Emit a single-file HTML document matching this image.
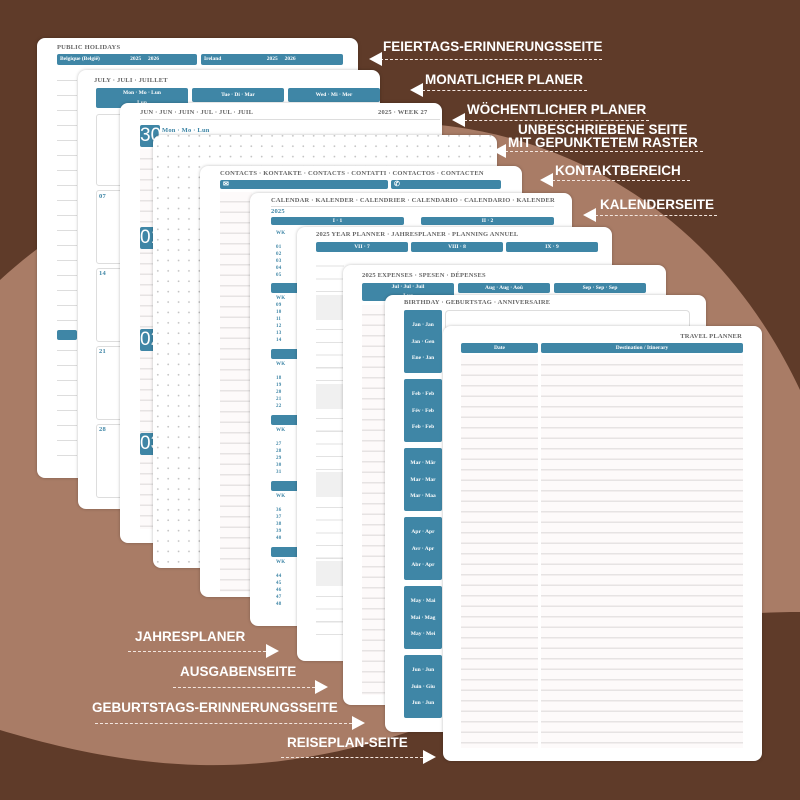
<!DOCTYPE html>
<html><head><meta charset="utf-8"><style>
*{margin:0;padding:0;box-sizing:border-box}
body{width:800px;height:800px;overflow:hidden;background:#5f3b29;position:relative;font-family:"Liberation Serif",serif}
.pg{position:absolute;background:#fff;border-radius:8px;overflow:hidden;box-shadow:0 0 3px rgba(0,0,0,.25)}
.t{position:absolute;font-size:6.5px;font-weight:bold;color:#666;white-space:nowrap;letter-spacing:.2px}
.b{position:absolute;background:#3f86a6;border-radius:2px;color:#fff;font-size:5.5px;font-weight:bold;text-align:center;white-space:nowrap}
.ln{position:absolute;background:repeating-linear-gradient(to bottom,#fdfafa 0,#fdfafa 9px,#e6e3e3 9px,#e6e3e3 10.5px)}
.lbl{position:absolute;color:#fff;font-family:"Liberation Sans",sans-serif;font-weight:bold;font-size:13.5px;white-space:nowrap;line-height:1}
.dl{position:absolute;height:0;border-top:1.3px dashed #f3e6df}
.al{position:absolute;width:0;height:0;border-top:7px solid transparent;border-bottom:7px solid transparent;border-right:13px solid #fff}
.ar{position:absolute;width:0;height:0;border-top:7px solid transparent;border-bottom:7px solid transparent;border-left:13px solid #fff}
.bn{position:absolute;color:#fff;font-size:19px;background:#3f86a6;border-radius:2px;font-family:"Liberation Sans",sans-serif;text-align:center;line-height:22px}
</style></head><body>
<svg width="800" height="800" style="position:absolute;left:0;top:0">
<path d="M0,280 C120,170 300,110 440,125 C580,140 720,220 800,390 L800,612 C760,612 720,615 700,620 C560,660 400,770 200,765 C120,763 50,745 0,730 Z" fill="#a97c66"/>
</svg>

<div class="pg" style="left:37px;top:38px;width:321px;height:440px">
<div class="t" style="left:20px;top:6px">PUBLIC HOLIDAYS</div>
<div class="b" style="left:20px;top:16px;width:140px;height:11px;text-align:left;padding-left:3px;line-height:11px">Belgique (België) &nbsp;&nbsp;&nbsp;&nbsp;&nbsp;&nbsp;&nbsp;&nbsp;&nbsp;&nbsp;&nbsp;&nbsp;&nbsp;&nbsp;&nbsp;&nbsp;&nbsp;&nbsp;&nbsp;&nbsp; 2025 &nbsp;&nbsp;&nbsp; 2026</div>
<div class="b" style="left:164px;top:16px;width:142px;height:11px;text-align:left;padding-left:3px;line-height:11px">Ireland &nbsp;&nbsp;&nbsp;&nbsp;&nbsp;&nbsp;&nbsp;&nbsp;&nbsp;&nbsp;&nbsp;&nbsp;&nbsp;&nbsp;&nbsp;&nbsp;&nbsp;&nbsp;&nbsp;&nbsp;&nbsp;&nbsp;&nbsp;&nbsp;&nbsp;&nbsp;&nbsp;&nbsp;&nbsp;&nbsp;&nbsp; 2025 &nbsp;&nbsp;&nbsp; 2026</div>
<div class="ln" style="left:20px;top:28px;width:20px;height:400px;background:repeating-linear-gradient(to bottom,#fff 0,#fff 14px,#ddd 14px,#ddd 15px)"></div>
<div class="b" style="left:20px;top:292px;width:20px;height:10px"></div>
</div>

<div class="pg" style="left:78px;top:70px;width:302px;height:439px">
<div class="t" style="left:16px;top:7px">JULY · JULI · JUILLET</div>
<div class="b" style="left:18px;top:18px;width:92px;height:20px;line-height:10px">Mon · Mo · Lun<br>Lun</div>
<div class="b" style="left:114px;top:18px;width:92px;height:14px;line-height:14px">Tue · Di · Mar</div>
<div class="b" style="left:210px;top:18px;width:92px;height:14px;line-height:14px">Wed · Mi · Mer</div>
<div style="position:absolute;left:18px;top:44px;width:40px;height:72px;border:1px solid #ddd;border-radius:3px"></div>
<div style="position:absolute;left:18px;top:120px;width:40px;height:74px;border:1px solid #ddd;border-radius:3px"></div>
<div style="position:absolute;left:18px;top:198px;width:40px;height:74px;border:1px solid #ddd;border-radius:3px"></div>
<div style="position:absolute;left:18px;top:276px;width:40px;height:74px;border:1px solid #ddd;border-radius:3px"></div>
<div style="position:absolute;left:18px;top:354px;width:40px;height:74px;border:1px solid #ddd;border-radius:3px"></div>
<div class="t" style="left:21px;top:123px;color:#3f86a6">07</div>
<div class="t" style="left:21px;top:200px;color:#3f86a6">14</div>
<div class="t" style="left:21px;top:278px;color:#3f86a6">21</div>
<div class="t" style="left:21px;top:356px;color:#3f86a6">28</div>
</div>

<div class="pg" style="left:120px;top:103px;width:322px;height:440px">
<div class="t" style="left:20px;top:6px">JUN · JUN · JUIN · JUL · JUL · JUIL</div>
<div class="t" style="left:258px;top:6px">2025 · WEEK 27</div>
<div style="position:absolute;left:20px;top:16px;width:300px;border-top:1px solid #ddd"></div>
<div class="bn" style="left:20px;top:22px;width:20px">30</div>
<div class="t" style="left:42px;top:24px;color:#3f86a6">Mon · Mo · Lun</div>
<div class="ln" style="left:20px;top:46px;width:20px;height:380px"></div>
<div class="bn" style="left:20px;top:124px;width:20px">01</div>
<div class="bn" style="left:20px;top:226px;width:20px">02</div>
<div class="bn" style="left:20px;top:330px;width:20px">03</div>
</div>

<div class="pg" style="left:153px;top:135px;width:344px;height:433px;background:#fff radial-gradient(circle,#c4c4c4 0.7px,transparent 1.1px) 10px 6px/10.4px 10.4px"></div>

<div class="pg" style="left:200px;top:166px;width:322px;height:431px">
<div class="t" style="left:20px;top:4px">CONTACTS · KONTAKTE · CONTACTS · CONTATTI · CONTACTOS · CONTACTEN</div>
<div class="b" style="left:20px;top:14px;width:168px;height:9px;text-align:left;padding-left:3px;font-size:7px;line-height:9px">✉</div>
<div class="b" style="left:191px;top:14px;width:110px;height:9px;text-align:left;padding-left:3px;font-size:7px;line-height:9px">✆</div>
<div class="ln" style="left:20px;top:26px;width:32px;height:400px"></div>
</div>

<div class="pg" style="left:250px;top:193px;width:322px;height:433px">
<div class="t" style="left:21px;top:4px">CALENDAR · KALENDER · CALENDRIER · CALENDARIO · CALENDARIO · KALENDER</div>
<div style="position:absolute;left:21px;top:13px;width:283px;border-top:1px solid #ddd"></div>
<div class="t" style="left:21px;top:15px;color:#3f86a6">2025</div>
<div class="b" style="left:21px;top:24px;width:133px;height:8px;line-height:8px">I · 1</div>
<div class="b" style="left:171px;top:24px;width:133px;height:8px;line-height:8px">II · 2</div>
<div class="t" style="left:26px;top:37px;color:#3f86a6;font-size:5px;line-height:7px">WK<br><br>01<br>02<br>03<br>04<br>05</div>
<div class="b" style="left:21px;top:90px;width:30px;height:10px"></div>
<div class="t" style="left:26px;top:102px;color:#3f86a6;font-size:5px;line-height:7px">WK<br>09<br>10<br>11<br>12<br>13<br>14</div>
<div class="b" style="left:21px;top:156px;width:30px;height:10px"></div>
<div class="t" style="left:26px;top:168px;color:#3f86a6;font-size:5px;line-height:7px">WK<br><br>18<br>19<br>20<br>21<br>22</div>
<div class="b" style="left:21px;top:222px;width:30px;height:10px"></div>
<div class="t" style="left:26px;top:234px;color:#3f86a6;font-size:5px;line-height:7px">WK<br><br>27<br>28<br>29<br>30<br>31</div>
<div class="b" style="left:21px;top:288px;width:30px;height:10px"></div>
<div class="t" style="left:26px;top:300px;color:#3f86a6;font-size:5px;line-height:7px">WK<br><br>36<br>37<br>38<br>39<br>40</div>
<div class="b" style="left:21px;top:354px;width:30px;height:10px"></div>
<div class="t" style="left:26px;top:366px;color:#3f86a6;font-size:5px;line-height:7px">WK<br><br>44<br>45<br>46<br>47<br>48</div>
</div>

<div class="pg" style="left:297px;top:227px;width:315px;height:434px">
<div class="t" style="left:19px;top:4px">2025 YEAR PLANNER · JAHRESPLANER · PLANNING ANNUEL</div>
<div class="b" style="left:19px;top:15px;width:92px;height:10px;line-height:10px">VII · 7</div>
<div class="b" style="left:114px;top:15px;width:92px;height:10px;line-height:10px">VIII · 8</div>
<div class="b" style="left:209px;top:15px;width:92px;height:10px;line-height:10px">IX · 9</div>
<div class="ln" style="left:19px;top:27px;width:28px;height:390px;background:repeating-linear-gradient(to bottom,#fff 0,#fff 11.6px,#e2e2e2 11.6px,#e2e2e2 12.7px)"></div>
<div style="position:absolute;left:19px;top:68px;width:28px;height:25px;background:#f0f0f0"></div>
<div style="position:absolute;left:19px;top:157px;width:28px;height:25px;background:#f0f0f0"></div>
<div style="position:absolute;left:19px;top:245px;width:28px;height:25px;background:#f0f0f0"></div>
<div style="position:absolute;left:19px;top:334px;width:28px;height:25px;background:#f0f0f0"></div>
</div>

<div class="pg" style="left:343px;top:265px;width:323px;height:440px">
<div class="t" style="left:19px;top:7px">2025 EXPENSES · SPESEN · DÉPENSES</div>
<div class="b" style="left:19px;top:18px;width:92px;height:18px;line-height:9px">Jul · Jul · Juil<br>Lug</div>
<div class="b" style="left:115px;top:18px;width:92px;height:10px;line-height:10px">Aug · Aug · Aoû</div>
<div class="b" style="left:211px;top:18px;width:92px;height:10px;line-height:10px">Sep · Sep · Sep</div>
<div class="ln" style="left:19px;top:40px;width:30px;height:390px"></div>
</div>

<div class="pg" style="left:385px;top:295px;width:321px;height:437px">
<div class="t" style="left:19px;top:4px">BIRTHDAY · GEBURTSTAG · ANNIVERSAIRE</div>
<div class="b" style="left:19px;top:15px;width:38px;height:63px;line-height:16.5px;padding-top:7px">Jan · Jan<br>Jan · Gen<br>Ene · Jan</div>
<div class="b" style="left:19px;top:84px;width:38px;height:63px;line-height:16.5px;padding-top:7px">Feb · Feb<br>Fév · Feb<br>Feb · Feb</div>
<div class="b" style="left:19px;top:153px;width:38px;height:63px;line-height:16.5px;padding-top:7px">Mar · Mär<br>Mar · Mar<br>Mar · Maa</div>
<div class="b" style="left:19px;top:222px;width:38px;height:63px;line-height:16.5px;padding-top:7px">Apr · Apr<br>Avr · Apr<br>Abr · Apr</div>
<div class="b" style="left:19px;top:291px;width:38px;height:63px;line-height:16.5px;padding-top:7px">May · Mai<br>Mai · Mag<br>May · Mei</div>
<div class="b" style="left:19px;top:360px;width:38px;height:63px;line-height:16.5px;padding-top:7px">Jun · Jun<br>Juin · Giu<br>Jun · Jun</div>
<div style="position:absolute;left:60px;top:15px;width:245px;height:20px;border:1px solid #ddd;border-bottom:none;border-radius:4px"></div>
</div>

<div class="pg" style="left:443px;top:326px;width:319px;height:435px">
<div class="t" style="right:20px;top:7px">TRAVEL PLANNER</div>
<div class="b" style="left:18px;top:17px;width:77px;height:10px;line-height:10px">Date</div>
<div class="b" style="left:98px;top:17px;width:202px;height:10px;line-height:10px">Destination / Itinerary</div>
<div class="ln" style="left:18px;top:29px;width:77px;height:393px"></div>
<div class="ln" style="left:98px;top:29px;width:202px;height:393px"></div>
</div>

<div class="lbl" style="left:383px;top:40px">FEIERTAGS-ERINNERUNGSSEITE</div>
<div class="dl" style="left:380px;top:59px;width:222px"></div><div class="al" style="left:369px;top:52px"></div>
<div class="lbl" style="left:425px;top:73px">MONATLICHER PLANER</div>
<div class="dl" style="left:422px;top:90px;width:165px"></div><div class="al" style="left:410px;top:83px"></div>
<div class="lbl" style="left:467px;top:103px">WÖCHENTLICHER PLANER</div>
<div class="dl" style="left:464px;top:120px;width:185px"></div><div class="al" style="left:452px;top:113px"></div>
<div class="lbl" style="left:518px;top:123px">UNBESCHRIEBENE SEITE</div>
<div class="lbl" style="left:508px;top:136px">MIT GEPUNKTETEM RASTER</div>
<div class="dl" style="left:505px;top:151px;width:198px"></div><div class="al" style="left:493px;top:144px"></div>
<div class="lbl" style="left:555px;top:164px">KONTAKTBEREICH</div>
<div class="dl" style="left:552px;top:180px;width:138px"></div><div class="al" style="left:540px;top:173px"></div>
<div class="lbl" style="left:600px;top:198px">KALENDERSEITE</div>
<div class="dl" style="left:595px;top:215px;width:122px"></div><div class="al" style="left:583px;top:208px"></div>

<div class="lbl" style="left:135px;top:630px">JAHRESPLANER</div>
<div class="dl" style="left:128px;top:651px;width:138px"></div><div class="ar" style="left:266px;top:644px"></div>
<div class="lbl" style="left:180px;top:665px">AUSGABENSEITE</div>
<div class="dl" style="left:173px;top:687px;width:142px"></div><div class="ar" style="left:315px;top:680px"></div>
<div class="lbl" style="left:92px;top:701px">GEBURTSTAGS-ERINNERUNGSSEITE</div>
<div class="dl" style="left:95px;top:723px;width:257px"></div><div class="ar" style="left:352px;top:716px"></div>
<div class="lbl" style="left:287px;top:736px">REISEPLAN-SEITE</div>
<div class="dl" style="left:281px;top:757px;width:142px"></div><div class="ar" style="left:423px;top:750px"></div>
</body></html>
